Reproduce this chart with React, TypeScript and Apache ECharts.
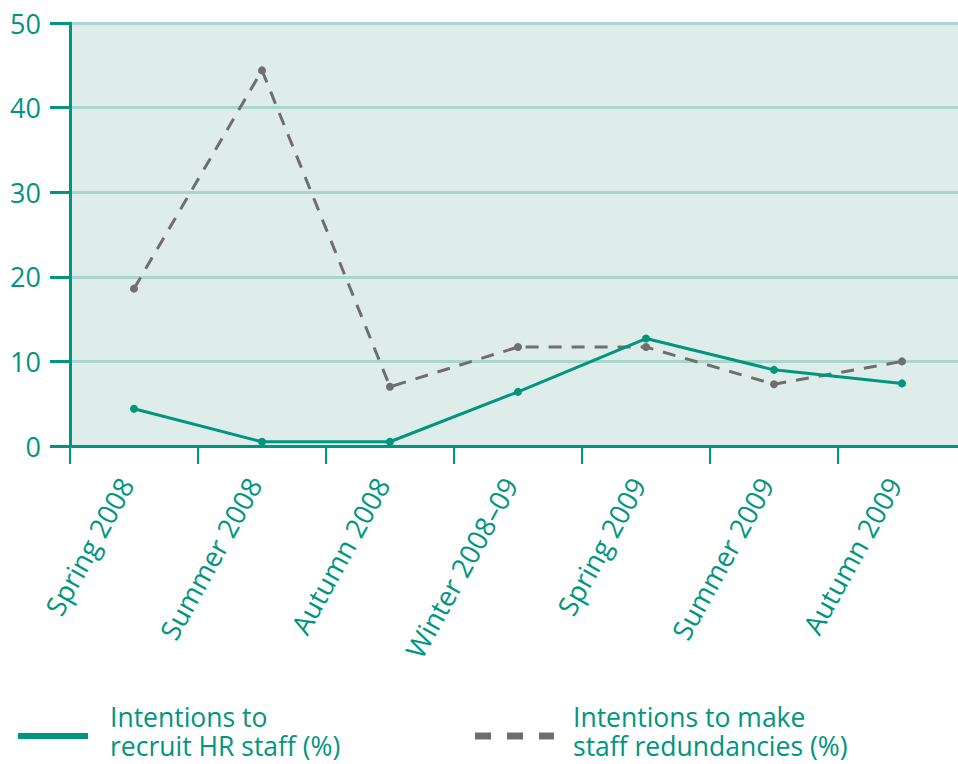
import React, { useEffect, useRef } from "react";
import * as echarts from "echarts";

const categories = [
  "Spring 2008",
  "Summer 2008",
  "Autumn 2008",
  "Winter 2008–09",
  "Spring 2009",
  "Summer 2009",
  "Autumn 2009",
];
const recruitHR = [4.4, 0.5, 0.5, 6.4, 12.7, 9.0, 7.4];
const redundancies = [18.6, 44.4, 7.0, 11.7, 11.7, 7.3, 10.0];
const legendRecruit = ["Intentions to", "recruit HR staff (%)"];
const legendRedund = ["Intentions to make", "staff redundancies (%)"];

const TEAL = "#00957F";
const GRAY = "#6E6E6E";
const FONT = "'Open Sans', 'Noto Sans', sans-serif";

export default function App() {
  const ref = useRef<HTMLDivElement>(null);
  useEffect(() => {
    document.body.style.margin = "0";
    const chart = echarts.init(ref.current!, null, { renderer: "svg" });
    const legendText = (x: number, y: number, text: string) => ({
      type: "text",
      x,
      y,
      style: {
        text,
        fill: TEAL,
        font: `26.5px ${FONT}`,
        verticalAlign: "middle",
        align: "left",
      },
    });
    chart.setOption({
      animation: false,
      textStyle: { fontFamily: FONT },
      grid: {
        left: 70,
        top: 23,
        width: 896,
        bottom: 318,
        show: true,
        backgroundColor: "#DFEDEA",
        borderWidth: 0,
        outerBoundsMode: "none",
        containLabel: false,
      },
      xAxis: {
        type: "category",
        data: categories,
        boundaryGap: true,
        axisLine: { lineStyle: { color: TEAL, width: 3 } },
        axisTick: { show: true, length: 18, lineStyle: { color: TEAL, width: 2 } },
        axisLabel: {
          rotate: 61,
          color: TEAL,
          fontSize: 27.5,
          fontFamily: FONT,
          margin: 20,
          padding: [0, 16, 0, 0],
          interval: 0,
        },
      },
      yAxis: {
        type: "value",
        min: 0,
        max: 50,
        interval: 10,
        axisLine: { show: true, lineStyle: { color: TEAL, width: 3 } },
        axisTick: { show: true, length: 20, lineStyle: { color: TEAL, width: 3 } },
        axisLabel: { color: TEAL, fontSize: 27, fontFamily: FONT, margin: 29 },
        splitLine: { show: true, lineStyle: { color: "#A9D5CC", width: 3 } },
      },
      series: [
        {
          name: legendRecruit.join(" "),
          type: "line",
          data: recruitHR,
          symbol: "circle",
          symbolSize: 8,
          z: 3,
          itemStyle: { color: TEAL },
          lineStyle: { color: TEAL, width: 3 },
        },
        {
          name: legendRedund.join(" "),
          type: "line",
          data: redundancies,
          symbol: "circle",
          symbolSize: 8,
          z: 2,
          itemStyle: { color: GRAY },
          lineStyle: { color: GRAY, width: 3, type: [13, 10] },
        },
      ],
      graphic: [
        {
          type: "line",
          shape: { x1: 18, y1: 736, x2: 88, y2: 736 },
          style: { stroke: TEAL, lineWidth: 6 },
        },
        legendText(110, 717, legendRecruit[0]),
        legendText(110, 746, legendRecruit[1]),
        {
          type: "line",
          shape: { x1: 475, y1: 736, x2: 554, y2: 736 },
          style: { stroke: GRAY, lineWidth: 7, lineDash: [16, 16] },
        },
        legendText(573, 717, legendRedund[0]),
        legendText(573, 746, legendRedund[1]),
      ],
    });
    return () => chart.dispose();
  }, []);
  return <div ref={ref} style={{ width: 958, height: 764 }} />;
}
